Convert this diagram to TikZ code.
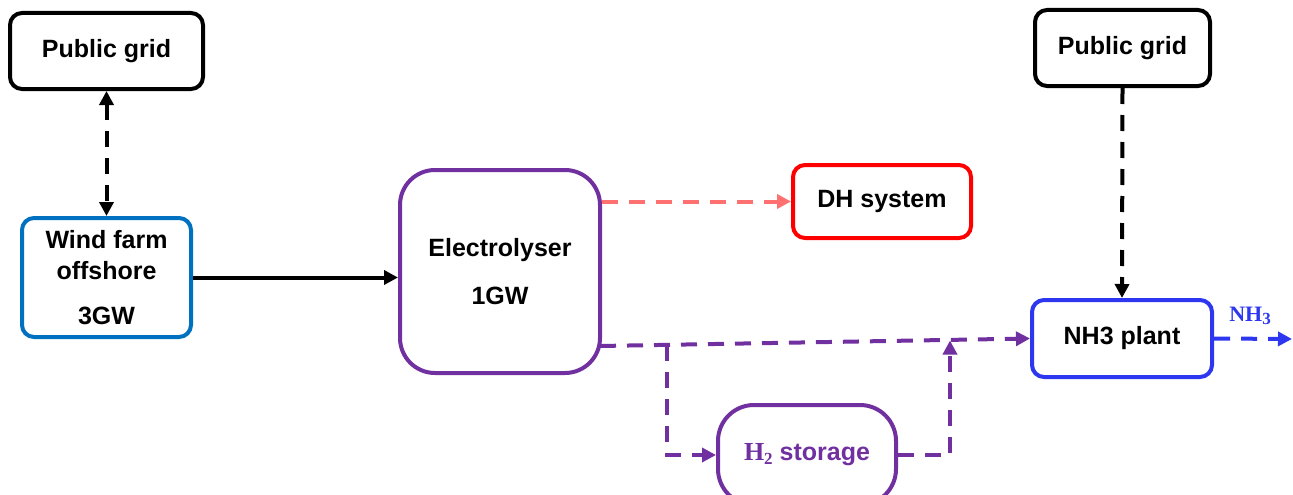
\documentclass[tikz,border=0pt]{standalone}
\usepackage{fontspec}
\setmainfont{Liberation Serif}
\setsansfont{Liberation Sans}
\usetikzlibrary{arrows.meta}
\definecolor{windblue}{RGB}{0,112,192}
\definecolor{elpurple}{RGB}{112,48,160}
\definecolor{dhred}{RGB}{255,0,0}
\definecolor{salmon}{RGB}{255,112,112}
\definecolor{nhblue}{RGB}{45,55,240}
\newcommand{\subtwo}[1]{\raisebox{-0.3ex}{\fontsize{17}{17}\selectfont #1}}
\begin{document}
\begin{tikzpicture}[x=1pt,y=-1pt,
  box/.style={draw,line width=4pt,rounded corners=12pt,inner sep=0pt,align=center,
    font=\sffamily\bfseries\fontsize{25}{31}\selectfont},
  flow/.style={line width=4pt,-{Triangle[length=14pt,width=14pt]}},
  dflow/.style={flow,dash pattern=on 16pt off 11pt},
]
\useasboundingbox (0,0) rectangle (1293,495);
\clip (0,0) rectangle (1293,495);
\node[box,minimum width=193pt,minimum height=76pt] (pgL) at (106.5,51) {Public grid};
\node[box,draw=windblue,minimum width=169pt,minimum height=119pt] (wind) at (106.5,277.5) {Wind farm\\offshore\\[14pt]3GW};
\node[box,draw=elpurple,rounded corners=35pt,minimum width=200pt,minimum height=203pt] (elec) at (500,271.5) {Electrolyser\\[17pt]1GW};
\node[box,draw=dhred,minimum width=178pt,minimum height=73pt] (dh) at (882,201.5) {DH system};
\node[box,minimum width=175pt,minimum height=76pt] (pgR) at (1122.5,48) {Public grid};
\node[box,draw=nhblue,minimum width=180pt,minimum height=77pt] (nh3) at (1122,338.5) {NH3 plant};
\node[box,draw=elpurple,text=elpurple,rounded corners=36pt,minimum width=178pt,minimum height=100pt] (h2) at (807,455) {{\rmfamily\fontsize{26}{26}\selectfont H\subtwo{2}} storage};
\node[text=nhblue,font=\rmfamily\bfseries\fontsize{22}{22}\selectfont,inner sep=0pt] (nhlab) at (1250,316) {NH\subtwo{3}};

\coordinate (e1) at (600,346);
\coordinate (b1) at (667,345);
\coordinate (j1) at (950,340.5);
\coordinate (out) at (1292,339);

\draw[dflow,{Triangle[length=14pt,width=14pt]}-{Triangle[length=14pt,width=14pt]}] (pgL.south) -- (wind.north);
\draw[flow] (wind.east) -- (wind.east -| elec.west);
\draw[dflow,salmon] (dh.west -| elec.east) -- (dh.west);
\draw[dflow] (pgR.south) -- (nh3.north);
\draw[dflow,elpurple] (e1) -- (nh3.west);
\draw[dflow,elpurple] (b1) |- (h2.west);
\draw[dflow,elpurple] (h2.east) -| (j1);
\draw[dflow,nhblue] (nh3.east) -- (out);
\end{tikzpicture}
\end{document}
